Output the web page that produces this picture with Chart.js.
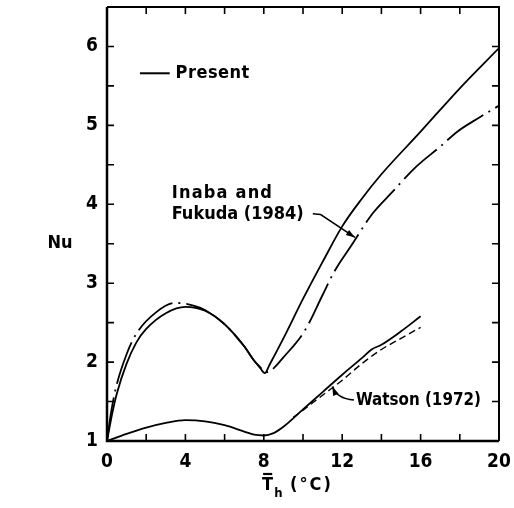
<!DOCTYPE html>
<html>
<head>
<meta charset="utf-8">
<script src="https://cdn.jsdelivr.net/npm/chart.js@4"></script>
<style>
html,body{margin:0;padding:0;background:#fff;}
#wrap{width:514px;height:508px;}
</style>
</head>
<body>
<div id="wrap"><canvas id="c" width="514" height="508"></canvas></div>
<script>
// ---- data ----
const presentUpperX = [0,0.25,0.5,1,1.5,2,3,4,5,6,7,7.5,7.8,8.05,8.3,9,10,11,12,13,14,16,18,20];
const presentUpperY = [1,1.33,1.6,1.98,2.25,2.42,2.62,2.7,2.65,2.48,2.2,2.02,1.93,1.86,1.97,2.3,2.8,3.27,3.72,4.07,4.38,4.92,5.47,5.98];

const inabaX = [0,0.2,0.45,1,1.5,2.5,3.5,4.5,5,6,7,7.5,7.8,8.1,8.4,9,10.07,11,11.58,12.5,13.54,14.5,15.75,17,17.87,19,20];
const inabaY = [1,1.35,1.67,2.1,2.36,2.63,2.75,2.71,2.66,2.48,2.2,2.02,1.94,1.87,1.9,2.06,2.39,2.85,3.14,3.49,3.88,4.14,4.47,4.73,4.92,5.1,5.25];

const presentLowerX = [0,1,2,3,4,5,6,7,7.5,8,8.5,9,10,11,12,13,13.5,14,15,16];
const presentLowerY = [1,1.09,1.17,1.23,1.265,1.25,1.2,1.12,1.08,1.07,1.1,1.18,1.4,1.62,1.84,2.05,2.16,2.22,2.39,2.58];

const watsonX = [9.5,10,11,12,13,14,15,16];
const watsonY = [1.3,1.39,1.58,1.77,1.98,2.16,2.3,2.44];

const xTickLabels = [0,4,8,12,16,20];
const yTickLabels = [1,2,3,4,5,6];

const FONT = '"DejaVu Sans Condensed", "DejaVu Sans", sans-serif';
const TXT = 'bold 18px ' + FONT;
const SUB = 'bold 13px ' + FONT;

function pts(xs, ys){ return xs.map((x,i)=>({x:x, y:ys[i]})); }

function arrowHead(ctx, x0, y0, x1, y1){
  const ang=Math.atan2(y1-y0, x1-x0);
  const L=9, W=3;
  ctx.beginPath();
  ctx.moveTo(x1,y1);
  ctx.lineTo(x1-L*Math.cos(ang)+W*Math.sin(ang), y1-L*Math.sin(ang)-W*Math.cos(ang));
  ctx.lineTo(x1-L*Math.cos(ang)-W*Math.sin(ang), y1-L*Math.sin(ang)+W*Math.cos(ang));
  ctx.closePath(); ctx.fill();
}
// draw text with optional letter spacing and max width
function drawText(ctx, text, x, y, spacing, maxW){
  ctx.letterSpacing=(spacing||0)+'px';
  if (maxW) ctx.fillText(text, x, y, maxW); else ctx.fillText(text, x, y);
  ctx.letterSpacing='0px';
}

const annot = {
  id:'annot',
  afterDraw(chart){
    const {ctx, chartArea:a, scales:{x,y}} = chart;
    ctx.save();
    ctx.strokeStyle='#000'; ctx.fillStyle='#000';
    // frame
    ctx.lineWidth=2.5;
    ctx.beginPath();
    ctx.moveTo(a.left,a.top); ctx.lineTo(a.left,a.bottom); ctx.lineTo(a.right,a.bottom);
    ctx.stroke();
    ctx.lineWidth=2;
    ctx.beginPath();
    ctx.moveTo(a.left,a.top); ctx.lineTo(a.right,a.top); ctx.lineTo(a.right,a.bottom);
    ctx.stroke();
    // inward ticks
    ctx.lineWidth=1.6;
    const tl=7;
    x.ticks.forEach(t=>{
      if (t.value<=x.min || t.value>=x.max) return;
      const px=x.getPixelForValue(t.value);
      ctx.beginPath();
      ctx.moveTo(px,a.bottom); ctx.lineTo(px,a.bottom-tl);
      ctx.moveTo(px,a.top); ctx.lineTo(px,a.top+tl);
      ctx.stroke();
    });
    y.ticks.forEach(t=>{
      if (t.value<=y.min || t.value>=y.max) return;
      const py=y.getPixelForValue(t.value);
      ctx.beginPath();
      ctx.moveTo(a.left,py); ctx.lineTo(a.left+tl,py);
      ctx.moveTo(a.right,py); ctx.lineTo(a.right-tl,py);
      ctx.stroke();
    });
    // legend "Present"
    ctx.lineWidth=2;
    const ly=y.getPixelForValue(5.66);
    ctx.beginPath();
    ctx.moveTo(x.getPixelForValue(1.68),ly); ctx.lineTo(x.getPixelForValue(3.2),ly);
    ctx.stroke();
    ctx.font=TXT;
    ctx.textBaseline='middle'; ctx.textAlign='left';
    drawText(ctx, 'Present', x.getPixelForValue(3.5), ly, 0.5);
    // Inaba and Fukuda label
    drawText(ctx, 'Inaba and', x.getPixelForValue(3.3), y.getPixelForValue(4.14), 1.2);
    drawText(ctx, 'Fukuda (1984)', x.getPixelForValue(3.3), y.getPixelForValue(3.87), 0, 135);
    // its arrow
    ctx.lineWidth=1.5;
    const ax0=x.getPixelForValue(10.5), ay0=y.getPixelForValue(3.88);
    const ax1=x.getPixelForValue(10.9), ay1=y.getPixelForValue(3.87);
    const ax2=x.getPixelForValue(12.65), ay2=y.getPixelForValue(3.58);
    ctx.beginPath(); ctx.moveTo(ax0,ay0); ctx.lineTo(ax1,ay1); ctx.lineTo(ax2,ay2); ctx.stroke();
    arrowHead(ctx, ax1, ay1, ax2, ay2);
    // Watson label
    drawText(ctx, 'Watson (1972)', x.getPixelForValue(12.7), y.getPixelForValue(1.52), 0, 125);
    const wx0=x.getPixelForValue(12.6), wy0=y.getPixelForValue(1.52);
    const wx1=x.getPixelForValue(11.92), wy1=y.getPixelForValue(1.56);
    const wx2=x.getPixelForValue(11.5), wy2=y.getPixelForValue(1.69);
    ctx.beginPath(); ctx.moveTo(wx0,wy0); ctx.quadraticCurveTo(wx1-4,wy1+2,wx2,wy2); ctx.stroke();
    arrowHead(ctx, wx1-4, wy1, wx2, wy2);
    // axis titles
    ctx.textAlign='center';
    ctx.fillText('Nu', a.left-47, y.getPixelForValue(3.51));
    // x title: T with overbar, subscript h, (°C)
    const tx=(a.left+a.right)/2 - 6, tyy=a.bottom+44;
    ctx.textAlign='left';
    const w1=ctx.measureText('T').width;
    ctx.font=SUB;
    const w2=ctx.measureText('h').width;
    ctx.font=TXT;
    ctx.letterSpacing='2px';
    const w3=ctx.measureText(' (°C)').width;
    ctx.letterSpacing='0px';
    const startX = tx - (w1+w2+w3)/2;
    ctx.fillText('T', startX, tyy);
    ctx.lineWidth=2.2;
    ctx.beginPath(); ctx.moveTo(startX+1, tyy-11); ctx.lineTo(startX+w1-1, tyy-11); ctx.stroke();
    ctx.font=SUB;
    ctx.fillText('h', startX+w1+1, tyy+9);
    ctx.font=TXT;
    ctx.letterSpacing='2px';
    ctx.fillText(' (°C)', startX+w1+w2+1, tyy);
    ctx.letterSpacing='0px';
    ctx.restore();
  }
};

const common = {pointRadius:0, borderColor:'#000', backgroundColor:'#000', fill:false, cubicInterpolationMode:'monotone'};

new Chart(document.getElementById('c'), {
  type:'line',
  data:{datasets:[
    Object.assign({label:'Present (upper)', data:pts(presentUpperX,presentUpperY), borderWidth:1.8}, common),
    Object.assign({label:'Inaba and Fukuda (1984)', data:pts(inabaX,inabaY), borderWidth:1.8, borderDash:[44,6,2,6]}, common),
    Object.assign({label:'Present (lower)', data:pts(presentLowerX,presentLowerY), borderWidth:1.8}, common),
    Object.assign({label:'Watson (1972)', data:pts(watsonX,watsonY), borderWidth:1.4, borderDash:[7,4]}, common)
  ]},
  options:{
    responsive:false, animation:false,
    layout:{padding:{top:7,right:15,left:0,bottom:0}},
    plugins:{legend:{display:false}, tooltip:{enabled:false}},
    scales:{
      x:{type:'linear', min:0, max:20,
         grid:{display:false, drawTicks:false}, border:{display:false},
         afterFit(s){ s.height=67; s.paddingLeft=0; s.paddingRight=0; },
         ticks:{stepSize:2, padding:10, color:'#000', maxRotation:0, autoSkip:false,
           font:{family:FONT, size:19, weight:'bold'},
           callback:v=> xTickLabels.includes(v) ? String(v) : ''}},
      y:{type:'linear', min:1, max:6.5,
         grid:{display:false, drawTicks:false}, border:{display:false},
         afterFit(s){ s.width=107; s.paddingTop=0; s.paddingBottom=0; },
         ticks:{stepSize:0.5, padding:9, color:'#000', autoSkip:false,
           font:{family:FONT, size:19, weight:'bold'},
           callback:v=> yTickLabels.includes(v) ? String(v) : ''}}
    }
  },
  plugins:[annot]
});
</script>
</body>
</html>
